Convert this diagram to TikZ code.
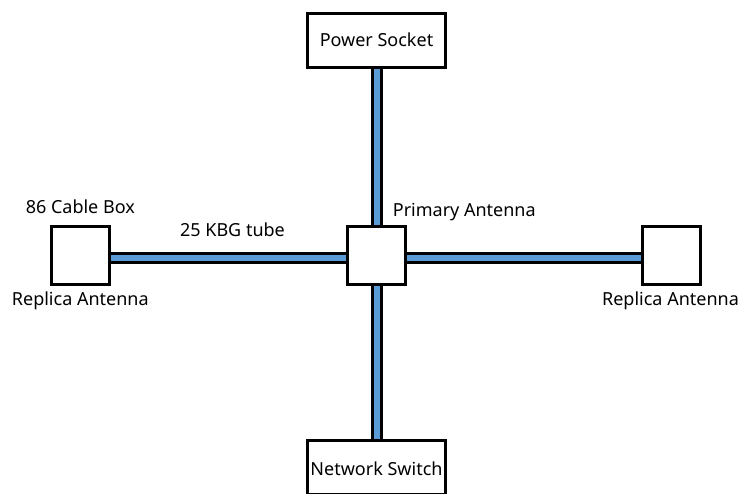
\documentclass[tikz,border=0pt]{standalone}
\usepackage{fontspec}
\setmainfont{Noto Sans}
\definecolor{tubeblue}{HTML}{5B9BD5}
\begin{document}
\begin{tikzpicture}[x=1pt,y=-1pt,
  box/.style={draw=black,line width=3pt,fill=white,inner sep=0pt},
  sqbox/.style={box,minimum width=58pt,minimum height=58pt},
  widebox/.style={box,minimum width=138pt,minimum height=54pt},
  tube/.style={draw=black,line width=3pt,double=tubeblue,double distance=6.5pt},
  lbl/.style={font=\fontsize{18}{21}\selectfont,inner sep=0pt,anchor=base}]
\useasboundingbox[fill=white] (0,0) rectangle (741,493);
\node[widebox] (ps) at (376.5,40.5) {};
\node[sqbox] (prim) at (376.5,255) {};
\node[sqbox] (rl) at (80.8,255) {};
\node[sqbox] (rr) at (671.3,255) {};
\node[widebox] (ns) at (376.5,467.5) {};
\draw[tube] ([xshift=0.5pt]ps.south) -- ([xshift=0.5pt]prim.north);
\draw[tube] ([xshift=0.5pt]prim.south) -- ([xshift=0.5pt]ns.north);
\draw[tube] ([yshift=-3pt]rl.east) -- ([yshift=-3pt]prim.west);
\draw[tube] ([yshift=-3pt]prim.east) -- ([yshift=-3pt]rr.west);
\node[lbl] (tps) at (376.5,46.7) {Power Socket};
\node[lbl] (tcb) at (80.3,213) {86 Cable Box};
\node[lbl] (tkbg) at (232.5,236.6) {25 KBG tube};
\node[lbl] (tpa) at (464.3,216) {Primary Antenna};
\node[lbl] (tra1) at (80.3,305.5) {Replica Antenna};
\node[lbl] (tra2) at (670.5,305.5) {Replica Antenna};
\node[lbl] (tns) at (376.5,475) {Network Switch};
\end{tikzpicture}
\end{document}
